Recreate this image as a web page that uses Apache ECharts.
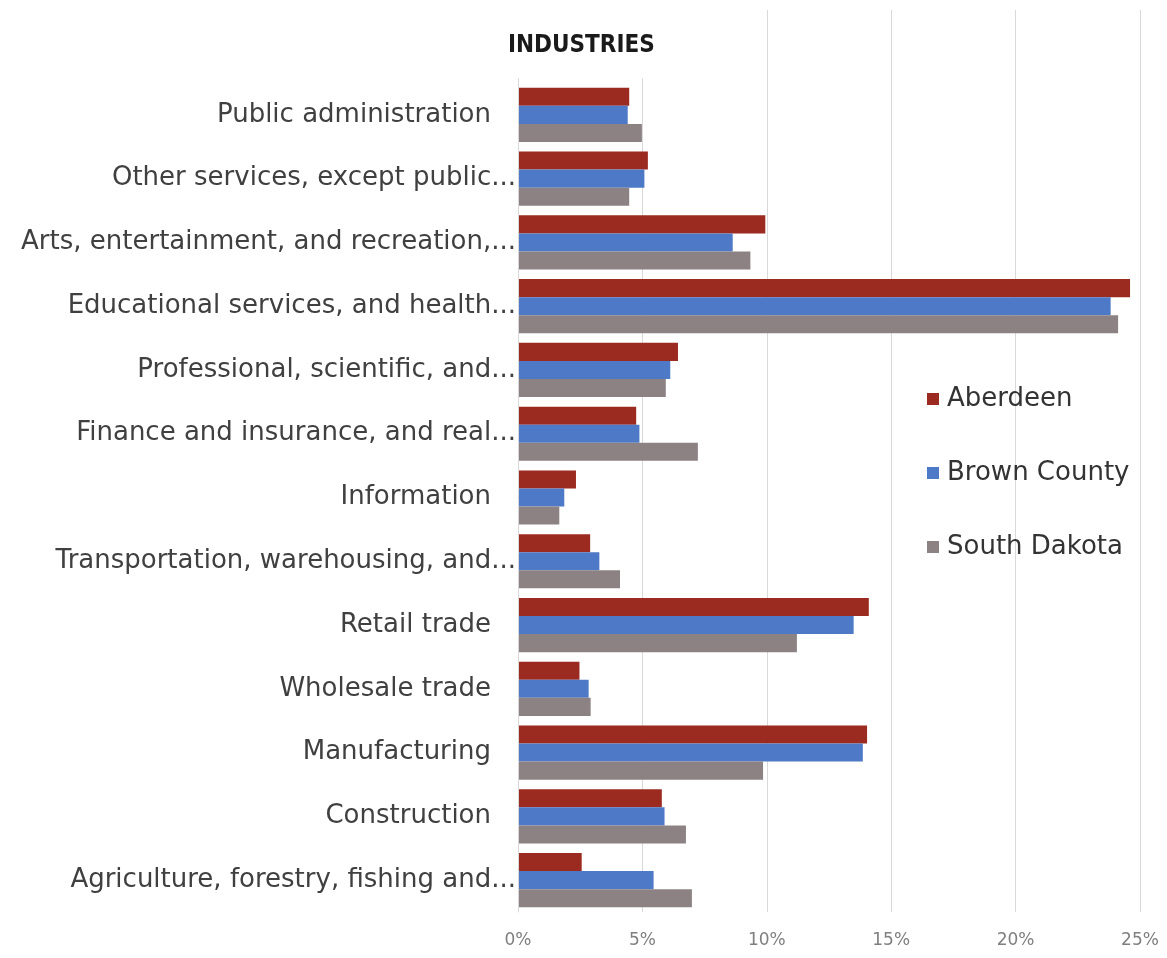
<!DOCTYPE html>
<html>
<head>
<meta charset="utf-8">
<title>Industries</title>
<script src="https://cdn.jsdelivr.net/npm/echarts@6/dist/echarts.min.js"></script>
<style>
  html, body { margin: 0; padding: 0; background: #ffffff; }
  #chart { width: 1167px; height: 958px; }
</style>
</head>
<body>
<div id="chart"></div>
<script>
// Industry categories, listed top to bottom as shown
const categories = [
  'Public administration',
  'Other services, except public...',
  'Arts, entertainment, and recreation,...',
  'Educational services, and health...',
  'Professional, scientific, and...',
  'Finance and insurance, and real...',
  'Information',
  'Transportation, warehousing, and...',
  'Retail trade',
  'Wholesale trade',
  'Manufacturing',
  'Construction',
  'Agriculture, forestry, fishing and...'
];

// Share of employment (%) by industry
const aberdeen     = [4.47, 5.22, 9.94, 24.6, 6.43, 4.75, 2.33, 2.90, 14.10, 2.47, 14.03, 5.78, 2.56];
const brownCounty  = [4.41, 5.08, 8.63, 23.82, 6.12, 4.88, 1.86, 3.27, 13.49, 2.84, 13.86, 5.89, 5.45];
const southDakota  = [4.98, 4.47, 9.34, 24.12, 5.94, 7.23, 1.66, 4.10, 11.21, 2.92, 9.85, 6.75, 6.99];

const xTicks = [0, 5, 10, 15, 20, 25];

const seriesNames = ['Aberdeen', 'Brown County', 'South Dakota'];
const colors = ['#9b2a21', '#4e79c6', '#8c8283'];

const chart = echarts.init(document.getElementById('chart'), null, { renderer: 'canvas' });

const labelFont = 'DejaVu Sans';

// Shortened labels run right up to the axis; full labels keep a gap before it
function categoryLabel(value) {
  return value.endsWith('...') ? value : value + '{gap|}';
}

chart.setOption({
  animation: false,
  backgroundColor: '#ffffff',
  color: colors,
  title: {
    text: 'INDUSTRIES',
    left: 500,
    top: 8,
    padding: [26, 8, 20, 8],
    backgroundColor: '#ffffff',
    textStyle: {
      fontFamily: 'DejaVu Sans Condensed',
      fontWeight: 'bold',
      fontSize: 24,
      color: '#1a1a1a'
    },
    z: 10
  },
  legend: {
    orient: 'vertical',
    left: 922,
    top: 380,
    itemWidth: 12,
    itemHeight: 12,
    itemGap: 46,
    icon: 'rect',
    textStyle: {
      fontFamily: labelFont,
      fontSize: 26,
      lineHeight: 28,
      color: '#333333',
      padding: [0, 0, 0, 3]
    },
    data: seriesNames
  },
  grid: [
    { left: 518, right: 27, top: 83, bottom: 46, containLabel: false },
    { left: 518, right: 27, top: 10, bottom: 46, containLabel: false }
  ],
  xAxis: [
    {
      gridIndex: 0,
      type: 'value',
      min: xTicks[0],
      max: xTicks[xTicks.length - 1],
      interval: 5,
      axisLine: { show: false },
      axisTick: { show: false },
      splitLine: { show: false },
      axisLabel: {
        formatter: '{value}%',
        fontFamily: labelFont,
        fontSize: 17,
        color: '#7f7f7f',
        margin: 20
      }
    },
    {
      gridIndex: 1,
      type: 'value',
      min: xTicks[0],
      max: xTicks[xTicks.length - 1],
      interval: 5,
      axisLine: { show: false },
      axisTick: { show: false },
      axisLabel: { show: false },
      splitLine: { show: true, lineStyle: { color: '#d9d9d9', width: 1 } }
    }
  ],
  yAxis: [
    {
      gridIndex: 0,
      type: 'category',
      data: categories,
      inverse: true,
      axisLine: { show: true, lineStyle: { color: '#d9d9d9', width: 1 } },
      axisTick: { show: false },
      splitLine: { show: false },
      axisLabel: {
        fontFamily: labelFont,
        fontSize: 26,
        color: '#404040',
        margin: 2,
        formatter: categoryLabel,
        rich: {
          gap: { width: 25 }
        }
      },
      z: 5
    },
    {
      gridIndex: 1,
      type: 'category',
      data: categories,
      show: false
    }
  ],
  series: [
    { name: seriesNames[0], type: 'bar', data: aberdeen, barGap: '0%', barCategoryGap: '15%', xAxisIndex: 0, yAxisIndex: 0 },
    { name: seriesNames[1], type: 'bar', data: brownCounty, barGap: '0%', barCategoryGap: '15%', xAxisIndex: 0, yAxisIndex: 0 },
    { name: seriesNames[2], type: 'bar', data: southDakota, barGap: '0%', barCategoryGap: '15%', xAxisIndex: 0, yAxisIndex: 0 }
  ]
});
</script>
</body>
</html>
